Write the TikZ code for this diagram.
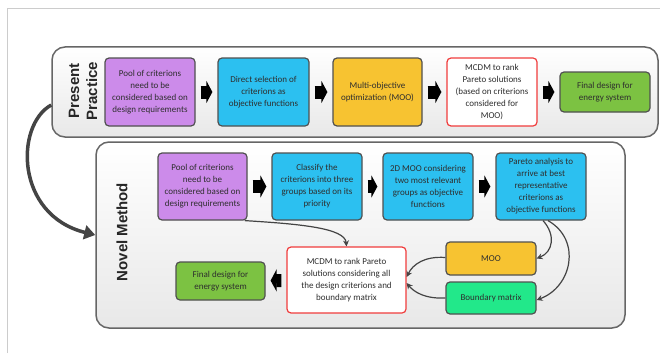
\documentclass[tikz,border=0pt]{standalone}
\usepackage{fontspec}
\setmainfont{Carlito}
\newfontfamily\labelfont{Liberation Sans}
\usetikzlibrary{arrows.meta,calc}
\definecolor{cpurple}{HTML}{CC8BEA}
\definecolor{ccyan}{HTML}{2CC0F0}
\definecolor{cyellow}{HTML}{F7C331}
\definecolor{cgreen}{HTML}{7CC242}
\definecolor{cmint}{HTML}{22E88A}
\definecolor{cred}{HTML}{F03C3C}
\definecolor{cborder}{HTML}{505050}
\definecolor{carrow}{HTML}{444444}
\definecolor{cpanel}{HTML}{666666}
\tikzset{
  panel/.style={draw=cpanel, line width=1.5pt, rounded corners=13pt, top color=white, bottom color=black!9, inner sep=0pt},
  box/.style={draw=cborder, line width=1.2pt, rounded corners=4pt, align=center, inner sep=1pt,
    font=\fontsize{9}{12}\selectfont, text=black!82},
  mcdm/.style={box, draw=cred, fill=white},
  blockarr/.style={draw=black, line width=13pt, shorten <=5pt, shorten >=5pt,
    -{Triangle[length=6pt 0 0, width=22pt 0 0]}},
  thinarr/.style={draw=carrow, line width=1.2pt, -{Stealth[length=6pt 0 0, width=6pt 0 0]}},
  bigarr/.style={draw=carrow, line width=3.5pt, -{Triangle[length=11pt 0 0, width=14pt 0 0]}},
  sidelabel/.style={rotate=90, align=center, font=\labelfont\bfseries\fontsize{15}{18}\selectfont, text=black!85}
}
\begin{document}
\begin{tikzpicture}[x=1pt,y=-1pt]
\useasboundingbox (0,0) rectangle (660,353);
\draw[black!20, line width=0.8pt] (7,353) -- (7,8) -- (660,8);

% panels
\node[panel, minimum width=606pt, minimum height=90pt] (present) at (355,92) {};
\node[panel, minimum width=529pt, minimum height=186pt] (novel) at (360.5,235) {};

\node[sidelabel] (plabel) at (83,91) {Present\\Practice};
\node[sidelabel] (nlabel) at (122,232) {Novel Method};

% present practice
\node[box, fill=cpurple, minimum width=90pt, minimum height=68pt] (p1) at (150,92) {Pool of criterions\\need to be\\considered based on\\design requirements};
\node[box, fill=ccyan, minimum width=91pt, minimum height=68pt] (p2) at (263.5,92) {Direct selection of\\criterions as\\objective functions};
\node[box, fill=cyellow, minimum width=89pt, minimum height=68pt] (p3) at (377.5,92) {Multi-objective\\optimization (MOO)};
\node[mcdm, minimum width=90pt, minimum height=68pt] (p4) at (492,92) {MCDM to rank\\Pareto solutions\\(based on criterions\\considered for\\MOO)};
\node[box, fill=cgreen, minimum width=90pt, minimum height=40pt] (p5) at (605,92) {Final design for\\energy system};

\draw[blockarr] (p1) -- (p2);
\draw[blockarr] (p2) -- (p3);
\draw[blockarr] (p3) -- (p4);
\draw[blockarr] (p4) -- (p5);

% novel method
\node[box, fill=cpurple, minimum width=89pt, minimum height=67pt] (n1) at (202.5,186.5) {Pool of criterions\\need to be\\considered based on\\design requirements};
\node[box, fill=ccyan, minimum width=90pt, minimum height=67pt] (n2) at (317,186.5) {Classify the\\criterions into three\\groups based on its\\priority};
\node[box, fill=ccyan, minimum width=90pt, minimum height=67pt] (n3) at (428,186.5) {2D MOO considering\\two most relevant\\groups as objective\\functions};
\node[box, fill=ccyan, minimum width=90pt, minimum height=67pt] (n4) at (541,186.5) {Pareto analysis to\\arrive at best\\representative\\criterions as\\objective functions};
\node[box, fill=cyellow, minimum width=90pt, minimum height=33pt] (n5) at (491,258.5) {MOO};
\node[box, fill=cmint, minimum width=90pt, minimum height=32pt] (n6) at (491,298) {Boundary matrix};
\node[mcdm, minimum width=119pt, minimum height=66pt] (n7) at (346.5,280) {MCDM to rank Pareto\\solutions considering all\\the design criterions and\\boundary matrix};
\node[box, fill=cgreen, minimum width=89pt, minimum height=38pt] (n8) at (220.5,281) {Final design for\\energy system};

\draw[blockarr] (n1) -- (n2);
\draw[blockarr] (n2) -- (n3);
\draw[blockarr] (n3) -- (n4);
\draw[blockarr] (n7) -- (n8);

\draw[thinarr] ([xshift=-3pt]n1.south east) .. controls (300,224) and (345,228) .. (n7.north);
\draw[thinarr] ([xshift=2pt]n4.south) .. controls (556,235) and (553,252) .. (n5.east);
\draw[thinarr] ([xshift=7pt]n4.south) .. controls (582,240) and (572,287) .. ([yshift=-2pt]n6.east);
\draw[thinarr] ([yshift=1pt]n5.west) .. controls (425,256) and (413,264) .. ([yshift=3pt]n7.east);
\draw[thinarr] (n6.west) .. controls (425,299) and (414,292) .. ([yshift=-3pt]n7.east);

% big arrow
\draw[bigarr] ([yshift=-13pt]present.west) .. controls (15,125) and (15,215) .. (novel.west);
\end{tikzpicture}
\end{document}
